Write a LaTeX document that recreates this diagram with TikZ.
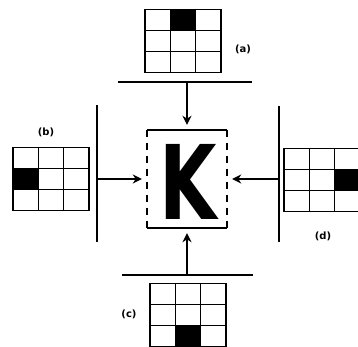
\documentclass[tikz,border=0pt]{standalone}
\usepackage{graphicx}
\usepackage{fontspec}
\newfontfamily\letterfont{DejaVu Sans}
\usetikzlibrary{arrows.meta, positioning, calc}

\begin{document}
\begin{tikzpicture}[x=1pt, y=-1pt,
        grid/.style={draw, line width=1.4pt, minimum width=76pt, minimum height=63pt, inner sep=0pt},
        cell/.style={line width=1.1pt},
        bar/.style={line width=2.6pt},
        frame/.style={line width=1.8pt},
        arr/.style={line width=1.8pt, -{Stealth[length=9pt, width=9pt]}, shorten >=5pt},
        lbl/.style={font=\letterfont\bfseries\normalsize}
    ]
        \useasboundingbox (0,0) rectangle (358,347);

        % the four masks
        \node[grid] (ga) at (183, 41)  {};
        \node[grid] (gb) at (51, 179)  {};
        \node[grid] (gc) at (188, 315) {};
        \node[grid] (gd) at (322, 180) {};

        \node[lbl] (la) at (243, 49)  {(a)};
        \node[lbl] (lb) at (46, 132)  {(b)};
        \node[lbl] (lc) at (129, 314) {(c)};
        \node[lbl] (ld) at (323, 236) {(d)};

        % dark cell and inner lines of each mask
        \foreach \g/\c/\r in {ga/2/1, gb/1/2, gc/2/3, gd/3/2} {
            \fill ([xshift={(\c-1)*76/3*1pt}, yshift={-(\r-1)*21pt}]\g.north west) rectangle ++(76/3, 21);
            \foreach \i in {1,2} {
                \draw[cell] ($(\g.north west)!\i/3!(\g.north east)$) -- ($(\g.south west)!\i/3!(\g.south east)$);
                \draw[cell] ($(\g.north west)!\i/3!(\g.south west)$) -- ($(\g.north east)!\i/3!(\g.south east)$);
            }
        }

        % the letter in its frame
        \node[minimum width=80pt, minimum height=98pt, inner sep=0pt] (box) at (187, 179) {};
        \node[font=\fontsize{103}{103}\selectfont\letterfont\bfseries, inner sep=0pt] (k) at (188, 182) {\scalebox{0.72}[1]{K}};
        \draw[frame] (box.north west) -- (box.north east);
        \draw[frame] (box.south west) -- (box.south east);
        \draw[frame, dash pattern=on 7pt off 6pt] (box.north west) -- (box.south west);
        \draw[frame, dash pattern=on 7pt off 6pt] (box.north east) -- (box.south east);

        % bars
        \coordinate (ta1) at (118, 82);
        \coordinate (ta2) at (252, 82);
        \coordinate (tb1) at (97, 105);
        \coordinate (tb2) at (97, 242);
        \coordinate (tc1) at (122, 275);
        \coordinate (tc2) at (253, 275);
        \coordinate (td1) at (279, 106);
        \coordinate (td2) at (279, 242);
        \draw[bar] (ta1) -- (ta2);
        \draw[bar] (tb1) -- (tb2);
        \draw[bar] (tc1) -- (tc2);
        \draw[bar] (td1) -- (td2);

        % arrows to the frame
        \draw[arr] (box.north |- ta1) -- (box.north);
        \draw[arr] (box.west -| tb1) -- (box.west);
        \draw[arr] (box.south |- tc1) -- (box.south);
        \draw[arr] (box.east -| td1) -- (box.east);
    \end{tikzpicture}
\end{document}
